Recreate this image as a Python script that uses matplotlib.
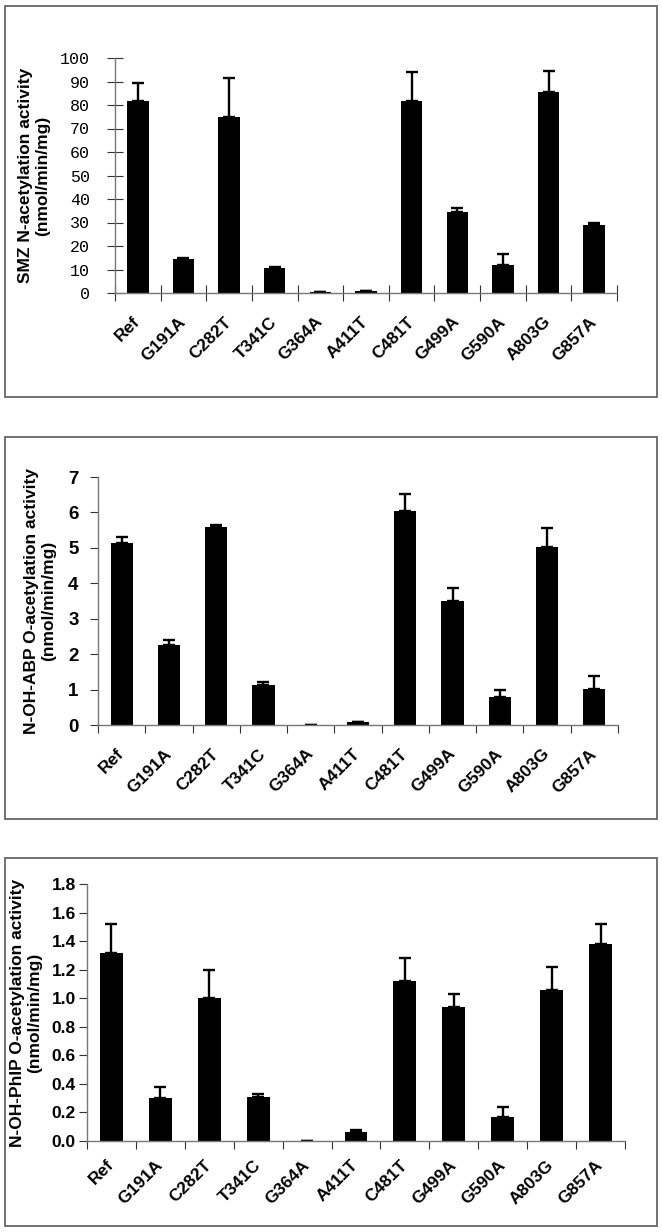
import numpy as np
import matplotlib
matplotlib.use("Agg")
import matplotlib.pyplot as plt
from matplotlib.patches import Rectangle

variants = ["Ref", "G191A", "C282T", "T341C", "G364A", "A411T",
            "C481T", "G499A", "G590A", "A803G", "G857A"]

# SMZ N-acetylation
smz_mean = [81.5, 14.5, 75.0, 10.5, 0.3, 0.7, 81.5, 34.5, 12.0, 85.5, 29.0]
smz_err = [8.0, 0.5, 16.5, 0.5, 0.0, 0.0, 12.5, 1.5, 4.5, 9.0, 1.0]

# N-OH-ABP O-acetylation
abp_mean = [5.15, 2.25, 5.60, 1.12, 0.01, 0.09, 6.05, 3.50, 0.80, 5.02, 1.03]
abp_err = [0.15, 0.15, 0.05, 0.08, 0.0, 0.0, 0.47, 0.37, 0.20, 0.55, 0.35]

# N-OH-PhIP O-acetylation
phip_mean = [1.32, 0.30, 1.00, 0.31, 0.0, 0.06, 1.12, 0.94, 0.17, 1.06, 1.38]
phip_err = [0.20, 0.08, 0.20, 0.02, 0.0, 0.02, 0.16, 0.09, 0.065, 0.16, 0.14]

W, H = 662, 1232
fig = plt.figure(figsize=(W / 100, H / 100), dpi=100)


def px(x0, y0, x1, y1):
    # pixel box -> figure fraction [left, bottom, width, height]
    return [x0 / W, 1 - y1 / H, (x1 - x0) / W, (y1 - y0) / H]


def panel(box, axbox, mean, err, ymax, ystep, fmt, tickfont, ypad,
          tickdir, ylabel, labx, xpad):
    fig.patches.append(Rectangle((box[0] / W, 1 - box[3] / H),
                                 (box[2] - box[0]) / W, (box[3] - box[1]) / H,
                                 transform=fig.transFigure, fill=False,
                                 edgecolor="#666666", linewidth=1.3))
    ax = fig.add_axes(px(*axbox))
    x = np.arange(len(variants))
    ax.bar(x, mean, width=0.47, color="black", zorder=2)
    ax.errorbar(x, mean, yerr=[np.zeros(len(err)), err], fmt="none",
                ecolor="black", elinewidth=1.7, capsize=4, capthick=1.7, zorder=1)
    ax.set_xlim(-0.5, len(variants) - 0.5)
    ax.set_ylim(0, ymax)
    yt = np.arange(0, ymax + ystep / 2, ystep)
    ax.set_yticks(yt)
    ax.set_yticklabels([fmt.format(v) for v in yt], **tickfont)
    ax.set_xticks(np.arange(-0.5, len(variants), 1.0))
    ax.set_xticklabels([])
    ax.set_xticks(x, minor=True)
    ax.set_xticklabels(variants, minor=True, rotation=45, ha="right",
                       va="center", rotation_mode="anchor", fontsize=12.5,
                       fontweight="bold", family="Liberation Sans")
    tl = 12 if tickdir == "inout" else 6
    ax.tick_params(axis="x", which="minor", length=0, pad=xpad)
    ax.tick_params(axis="x", which="major", length=tl, width=0.8,
                   direction=tickdir, color="#333333")
    ax.tick_params(axis="y", length=tl, width=0.8, direction=tickdir,
                   color="#333333", pad=ypad)
    for s in ["top", "right"]:
        ax.spines[s].set_visible(False)
    for s in ["left", "bottom"]:
        ax.spines[s].set_color("#777777")
        ax.spines[s].set_linewidth(1.0)
    yc = (axbox[1] + axbox[3]) / 2
    fig.text(labx / W, 1 - yc / H, ylabel, rotation=90, ha="center",
             va="center", fontsize=12.5, fontweight="bold",
             family="Liberation Sans", linespacing=1.2)
    return ax


panel((5, 6, 657, 397), (115, 58, 617, 293), smz_mean, smz_err, 100, 10,
      "{:.0f}", dict(family="Liberation Mono", fontsize=12), 12,
      "inout", "SMZ N-acetylation activity\n(nmol/min/mg)", 34, 19)

panel((5, 437, 657, 819), (98, 477, 618, 725), abp_mean, abp_err, 7, 1,
      "{:.0f}", dict(family=["Liberation Sans Narrow", "Liberation Sans"],
                     fontsize=13.5, fontweight="bold"), 8,
      "out", "N-OH-ABP O-acetylation activity\n(nmol/min/mg)", 40, 19)

panel((5, 858, 657, 1226), (87, 884, 625, 1141), phip_mean, phip_err, 1.8, 0.2,
      "{:.1f}", dict(family="Liberation Sans", fontsize=12.5, fontweight="bold"), 2,
      "out", "N-OH-PhIP O-acetylation activity\n(nmol/min/mg)", 26, 15.5)

fig.savefig("out.png", dpi=100)
